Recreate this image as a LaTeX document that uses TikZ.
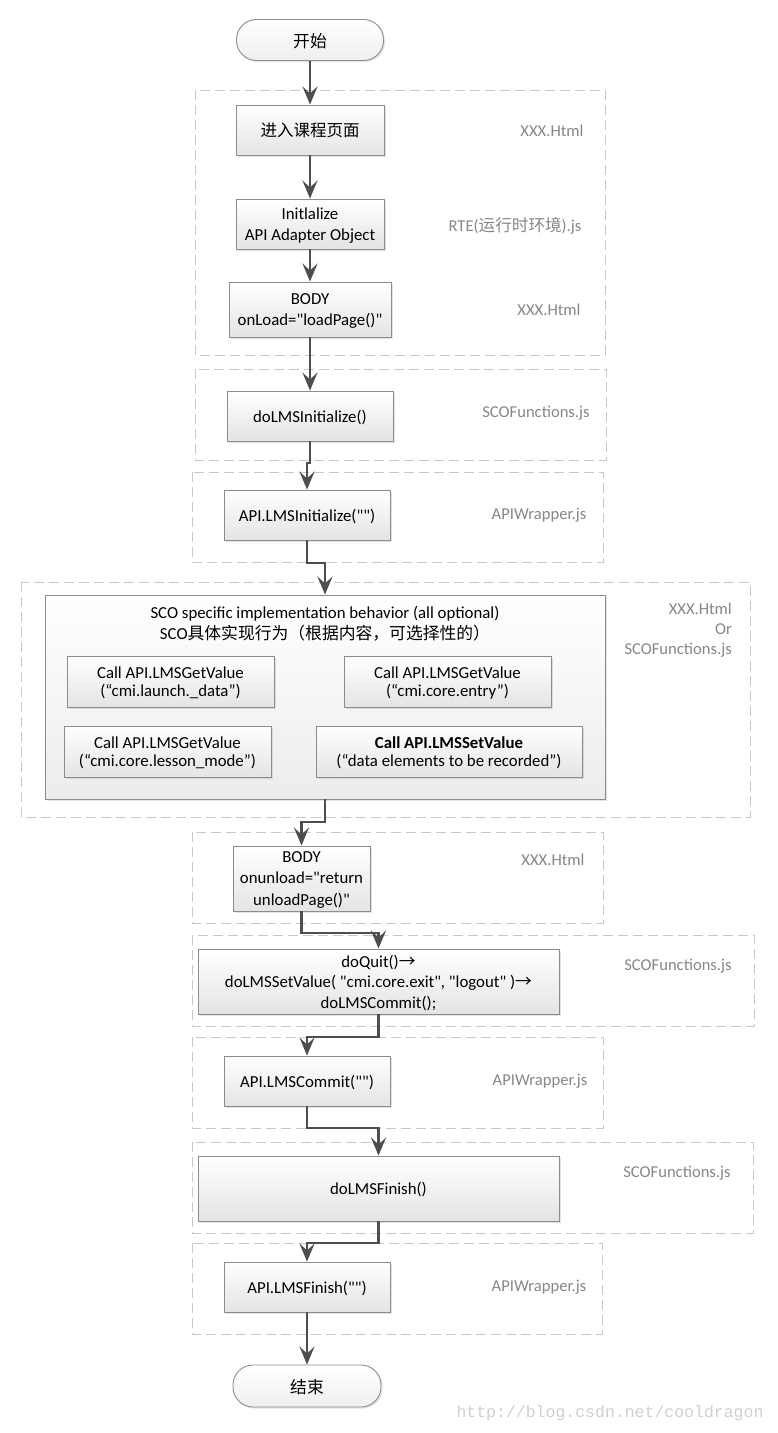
\documentclass[tikz,border=0pt]{standalone}
\usepackage{fontspec}
\setmainfont{Carlito}[Ligatures=TeXOff]
\newfontfamily\cjk{Noto Sans CJK SC}
\newfontfamily\wmfont{Liberation Mono}
\usetikzlibrary{arrows.meta,shadows}
\definecolor{arrowgray}{HTML}{4E4E4E}
\definecolor{boxborder}{HTML}{8C8C8C}
\definecolor{boxbottom}{HTML}{E4E4E4}
\definecolor{grplineclr}{HTML}{C8C8C8}
\definecolor{labelgray}{HTML}{878787}
\definecolor{wmgray}{HTML}{D0D0D0}
\begin{document}
\begin{tikzpicture}[x=1pt,y=-1pt,
  stepbox/.style={draw=boxborder, line width=0.9pt, top color=white, bottom color=boxbottom,
    drop shadow={shadow xshift=1.5pt, shadow yshift=-1.5pt, opacity=0.22},
    inner sep=0pt, align=center, text depth=0pt, font=\fontsize{16.8}{21.5}\selectfont, text=black},
  subbox/.style={stepbox, font=\fontsize{16.8}{18.5}\selectfont},
  termbox/.style={stepbox, rounded corners=20pt, bottom color=boxbottom!60},
  bigbox/.style={draw=boxborder, line width=0.9pt, top color=white, bottom color=boxbottom!70,
    drop shadow={shadow xshift=1.5pt, shadow yshift=-1.5pt, opacity=0.22}, inner sep=0pt},
  grp/.style={draw=grplineclr, line width=1pt, dash pattern=on 10pt off 5pt},
  lbl/.style={text=labelgray, font=\fontsize{16.6}{20}\selectfont, inner sep=0pt, align=right},
  conn/.style={draw=arrowgray, line width=2.4pt, -{Stealth[length=18pt,width=15pt,inset=7pt]}},
  wm/.style={text=wmgray, font=\wmfont\fontsize{16.5}{18}\selectfont, inner sep=0pt}
]
\fill[white] (0,0) rectangle (778,1433);
\useasboundingbox (0,0) rectangle (778,1433);

% dashed groups
\draw[grp] (195,90) rectangle (605,355);
\draw[grp] (195,369) rectangle (606,460);
\draw[grp] (192,472) rectangle (603,562);
\draw[grp] (21,582) rectangle (750,817);
\draw[grp] (192,832) rectangle (603,923);
\draw[grp] (192,935) rectangle (754,1026);
\draw[grp] (192,1037) rectangle (603,1128);
\draw[grp] (192,1142) rectangle (753,1233);
\draw[grp] (192,1243) rectangle (602,1334);

% nodes
\node[termbox, minimum width=147pt, minimum height=41pt] (start) at (310,40) {\cjk 开始};
\node[stepbox, minimum width=148pt, minimum height=50pt] (n1) at (310,130) {\cjk\fontsize{16.5}{20}\selectfont 进入课程页面};
\node[stepbox, minimum width=148pt, minimum height=50pt] (n2) at (310,224) {Initlalize\\API Adapter Object};
\node[stepbox, minimum width=162pt, minimum height=55pt] (n3) at (310,309.5) {BODY\\onLoad="loadPage()"};
\node[stepbox, minimum width=166pt, minimum height=50pt] (n4) at (310,416) {doLMSInitialize()};
\node[stepbox, minimum width=166pt, minimum height=50pt] (n5) at (307,515) {API.LMSInitialize("")};

\node[bigbox, minimum width=560pt, minimum height=204pt] (sco) at (325,697) {};
\node[align=center, inner sep=0pt, text depth=0pt, font=\fontsize{16.8}{21}\selectfont] (scot) at (325,623)
  {SCO specific implementation behavior (all optional)\\SCO{\cjk 具体实现行为（根据内容，可选择性的）}};
\node[subbox, minimum width=207pt, minimum height=51pt] (s1) at (170.5,681.5) {Call API.LMSGetValue\\(“cmi.launch.\_data”)};
\node[subbox, minimum width=207pt, minimum height=51pt] (s2) at (447.5,681.5) {Call API.LMSGetValue\\(“cmi.core.entry”)};
\node[subbox, minimum width=207pt, minimum height=51pt] (s3) at (167.5,751.5) {Call API.LMSGetValue\\(“cmi.core.lesson\_mode”)};
\node[subbox, minimum width=266pt, minimum height=51pt] (s4) at (449,751.5) {\textbf{Call API.LMSSetValue}\\(“data elements to be recorded”)};

\node[stepbox, minimum width=137pt, minimum height=65pt] (n6) at (301.5,878.5) {BODY\\onunload="return\\unloadPage()"};
\node[stepbox, minimum width=361pt, minimum height=65pt, font=\fontsize{16.8}{20.5}\selectfont] (n7) at (378.5,981.5)
  {doQuit(){\cjk →}\\doLMSSetValue( "cmi.core.exit", "logout" ){\cjk →}\\doLMSCommit();};
\node[stepbox, minimum width=166pt, minimum height=50pt] (n8) at (307,1081) {API.LMSCommit("")};
\node[stepbox, minimum width=361pt, minimum height=65pt] (n9) at (378.5,1188.5) {doLMSFinish()};
\node[stepbox, minimum width=166pt, minimum height=50pt] (n10) at (307,1287) {API.LMSFinish("")};
\node[termbox, minimum width=148pt, minimum height=42pt] (end) at (307,1386) {\cjk 结束};

% labels
\node[lbl] (l1) at (552,131) {XXX.Html};
\node[lbl] (l2) at (515,226) {RTE({\cjk 运行时环境}).js};
\node[lbl] (l3) at (549,310) {XXX.Html};
\node[lbl] (l4) at (536,413) {SCOFunctions.js};
\node[lbl] (l5) at (539,515) {APIWrapper.js};
\node[lbl, anchor=east] (l6) at (732,630) {XXX.Html\\Or\\SCOFunctions.js};
\node[lbl] (l7) at (553,860) {XXX.Html};
\node[lbl] (l8) at (678,966) {SCOFunctions.js};
\node[lbl] (l9) at (540,1081) {APIWrapper.js};
\node[lbl] (l10) at (677,1173) {SCOFunctions.js};
\node[lbl] (l11) at (539,1287) {APIWrapper.js};
\node[wm] (wmk) at (610,1413) {http://blog.csdn.net/cooldragon};

% jog coordinates
\coordinate (j45) at (310,463);
\coordinate (j5s) at (307,563);
\coordinate (js6) at (325,822);
\coordinate (j67) at (301.5,933);
\coordinate (j78) at (378.5,1037);
\coordinate (j89) at (307,1128);
\coordinate (j910) at (378.5,1243);

% connectors
\draw[conn] (start) -- (n1);
\draw[conn] (n1) -- (n2);
\draw[conn] (n2) -- (n3);
\draw[conn] (n3) -- (n4);
\draw[conn] (n4.south) -- (j45) -| (n5.north);
\draw[conn] (n5.south) -- (j5s) -| (sco.north);
\draw[conn] (sco.south) -- (js6) -| (n6.north);
\draw[conn] (n6.south) -- (j67) -| (n7.north);
\draw[conn] (n7.south) -- (j78) -| (n8.north);
\draw[conn] (n8.south) -- (j89) -| (n9.north);
\draw[conn] (n9.south) -- (j910) -| (n10.north);
\draw[conn] (n10) -- (end);
\end{tikzpicture}
\end{document}
